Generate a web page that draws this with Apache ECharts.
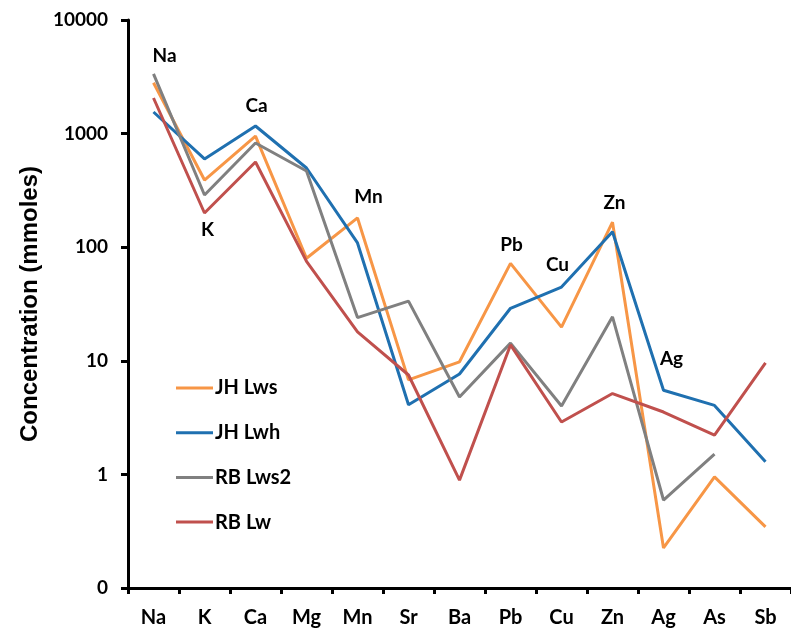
<!DOCTYPE html>
<html>
<head>
<meta charset="utf-8">
<script src="https://cdn.jsdelivr.net/npm/echarts@6/dist/echarts.min.js"></script>
<style>
  html, body { margin: 0; padding: 0; background: #ffffff; }
  #chart { width: 791px; height: 637px; }
</style>
</head>
<body>
<div id="chart"></div>
<script>
// Elements along the x axis
const elements = ['Na', 'K', 'Ca', 'Mg', 'Mn', 'Sr', 'Ba', 'Pb', 'Cu', 'Zn', 'Ag', 'As', 'Sb'];

// Concentrations (mmoles) per sample
const jhLws  = [2800, 390, 950, 80, 181, 6.8, 9.8, 72, 19.8, 166, 0.225, 0.95, 0.345];
const jhLwh  = [1550, 598, 1167, 498, 109, 4.1, 7.65, 29, 44.6, 137, 5.5, 4.05, 1.29];
const rbLws2 = [3350, 288, 826, 469, 24, 33.5, 4.8, 14.3, 4.0, 24.4, 0.595, 1.51, null];
const rbLw   = [2057, 200, 562, 75, 18, 7.5, 0.89, 13.8, 2.89, 5.15, 3.54, 2.22, 9.6];

// Log-axis tick values
const yTicks = [0.1, 1, 10, 100, 1000, 10000];

// Element callouts placed in data space: element, concentration level
const calloutElements = ['Na', 'K', 'Ca', 'Mn', 'Pb', 'Cu', 'Zn', 'Ag'];
const calloutLevels   = [4820, 142, 1750, 277, 105, 70, 245, 10.4];
const calloutShiftX   = [11, 3, 1, 11, 1, -4, 2, 8];

const seriesNames  = ['JH Lws', 'JH Lwh', 'RB Lws2', 'RB Lw'];
const seriesData   = [jhLws, jhLwh, rbLws2, rbLw];
const seriesColors = ['#F79646', '#1F70B0', '#808080', '#C0504D'];

const labelFont = 'Lato, "Open Sans", sans-serif';

const chart = echarts.init(document.getElementById('chart'), null, { renderer: 'canvas' });

const lineSeries = seriesNames.map((name, i) => ({
  name: name,
  type: 'line',
  data: seriesData[i],
  symbol: 'none',
  connectNulls: false,
  lineStyle: { width: 3, color: seriesColors[i] },
  itemStyle: { color: seriesColors[i] },
  emphasis: { disabled: true },
  z: 3
}));

const calloutSeries = {
  name: 'callouts',
  type: 'scatter',
  symbolSize: 0,
  silent: true,
  itemStyle: { opacity: 1, color: '#000' },
  data: calloutElements.map((el, i) => ({
    value: [el, calloutLevels[i]],
    name: el,
    label: { offset: [calloutShiftX[i], 0] }
  })),
  label: {
    show: true,
    position: 'inside',
    formatter: p => p.name,
    fontFamily: labelFont,
    fontWeight: 'bold',
    fontSize: 19,
    color: '#000',
    opacity: 1
  },
  emphasis: { disabled: true },
  z: 4
};

chart.setOption({
  animation: false,
  backgroundColor: '#ffffff',
  grid: { left: 128, right: -8, top: 20, bottom: 49 },
  legend: {
    data: seriesNames,
    orient: 'vertical',
    left: 171,
    top: 371,
    icon: 'rect',
    itemWidth: 37,
    itemHeight: 3,
    itemGap: 20.7,
    textStyle: {
      fontFamily: labelFont,
      fontWeight: 'bold',
      fontSize: 20,
      lineHeight: 24,
      color: '#000',
      padding: [0, 0, 0, -3]
    }
  },
  xAxis: {
    type: 'category',
    data: elements,
    boundaryGap: true,
    axisLine: { lineStyle: { color: '#000', width: 3 } },
    axisTick: { show: true, length: 6, lineStyle: { color: '#000', width: 3 } },
    axisLabel: {
      margin: 20,
      fontFamily: labelFont,
      fontWeight: 'bold',
      fontSize: 20,
      color: '#000'
    },
    splitLine: { show: false }
  },
  yAxis: {
    type: 'log',
    logBase: 10,
    min: yTicks[0],
    max: yTicks[yTicks.length - 1],
    name: 'Concentration (mmoles)',
    nameLocation: 'middle',
    nameGap: 86,
    nameRotate: 90,
    nameTextStyle: {
      fontFamily: '"Liberation Sans", Arial, sans-serif',
      fontWeight: 'bold',
      fontSize: 24,
      color: '#000'
    },
    axisLine: { show: true, lineStyle: { color: '#000', width: 3 } },
    axisTick: { show: true, length: 7, lineStyle: { color: '#000', width: 3 } },
    axisLabel: {
      margin: 20,
      fontFamily: labelFont,
      fontWeight: 'bold',
      fontSize: 19,
      color: '#000',
      formatter: v => (v < 1 ? '0' : String(Math.round(v)))
    },
    splitLine: { show: false },
    minorTick: { show: false }
  },
  series: lineSeries.concat([calloutSeries])
});
</script>
</body>
</html>
